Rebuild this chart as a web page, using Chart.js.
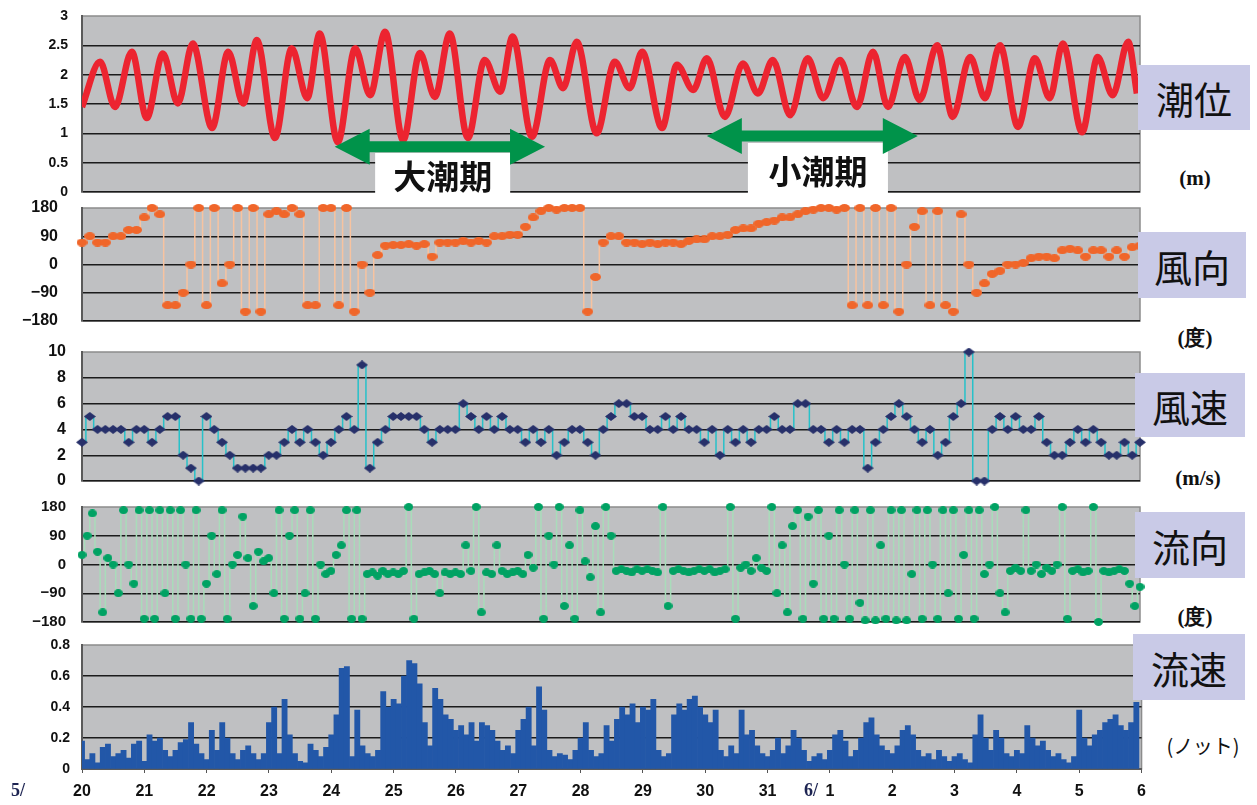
<!DOCTYPE html>
<html>
<head>
<meta charset="utf-8">
<title>潮位・風向・風速・流向・流速</title>
<script src="https://cdn.jsdelivr.net/npm/chart.js@4.4.0/dist/chart.umd.min.js"></script>
<style>
    body { margin: 0; background: #fff; width: 1257px; height: 805px; position: relative; overflow: hidden; }
    canvas { position: absolute; left: 0; }
    .tag { position: absolute; background: #c9cae7; color: #111; font: 38px "Noto Sans CJK JP", sans-serif;
           display: flex; align-items: center; justify-content: center; }
    .unit { position: absolute; transform: translate(-50%, -50%); color: #111; white-space: nowrap;
            font: bold 21px "Liberation Serif", serif; }
    .unit.jp { font: 20px "Noto Sans CJK JP", sans-serif; }
</style>
</head>
<body>
<canvas id="tide"></canvas>
<canvas id="windDir"></canvas>
<canvas id="windSpeed"></canvas>
<canvas id="curDir"></canvas>
<canvas id="curSpeed"></canvas>

<div class="tag" style="left:1138px;top:65px;width:112px;height:65px">潮位</div>
<div class="unit" style="left:1195px;top:178px">(m)</div>
<div class="tag" style="left:1138px;top:232px;width:108px;height:66px">風向</div>
<div class="unit" style="left:1195px;top:338px">(度)</div>
<div class="tag" style="left:1135px;top:373px;width:110px;height:64px">風速</div>
<div class="unit" style="left:1198px;top:478px">(m/s)</div>
<div class="tag" style="left:1135px;top:512px;width:110px;height:66px">流向</div>
<div class="unit" style="left:1195px;top:617px">(度)</div>
<div class="tag" style="left:1133px;top:634px;width:112px;height:66px">流速</div>
<div class="unit jp" style="left:1203px;top:745px">(ノット)</div>

<script>
// x axis: days since 5/20 00:00
const dayLabels = ['20', '21', '22', '23', '24', '25', '26', '27', '28', '29', '30', '31', '1', '2', '3', '4', '5', '6'];
const monthMarks = [{ day: 0, text: '5/' }, { day: 12, text: '6/' }];

// tide level (m): highs and lows
const tideDay = [0, 0.29, 0.53, 0.80, 1.04, 1.30, 1.54, 1.78, 2.09, 2.35, 2.59, 2.81, 3.10, 3.37, 3.62, 3.82,
    4.11, 4.39, 4.63, 4.87, 5.16, 5.43, 5.67, 5.91, 6.20, 6.47, 6.72, 6.92, 7.23, 7.52, 7.73, 7.95,
    8.27, 8.56, 8.80, 9.00, 9.32, 9.56, 9.82, 10.04, 10.33, 10.62, 10.86, 11.10, 11.38, 11.66, 11.91, 12.18,
    12.45, 12.71, 12.95, 13.22, 13.46, 13.74, 13.99, 14.27, 14.51, 14.75, 15.04, 15.31, 15.55, 15.76,
    16.07, 16.32, 16.56, 16.81, 16.95];
const tideLevel = [1.45, 2.22, 1.45, 2.39, 1.26, 2.36, 1.51, 2.53, 1.09, 2.39, 1.51, 2.59, 0.92, 2.45, 1.60, 2.70,
    0.85, 2.45, 1.65, 2.73, 0.88, 2.37, 1.62, 2.70, 0.92, 2.25, 1.71, 2.65, 0.94, 2.25, 1.77, 2.56,
    1.00, 2.22, 1.77, 2.39, 1.09, 2.17, 1.74, 2.28, 1.28, 2.19, 1.68, 2.25, 1.31, 2.28, 1.60, 2.25,
    1.45, 2.39, 1.45, 2.30, 1.57, 2.50, 1.28, 2.30, 1.60, 2.50, 1.11, 2.28, 1.60, 2.53,
    1.02, 2.30, 1.65, 2.56, 1.68];

// wind direction (deg), one reading every 3 h
const windDir = [
    70, 90, 70, 70, 90, 90, 110, 110,
    150, 180, 160, -130, -130, -90, 0, 180,
    -130, 180, -60, 0, 180, -150, 180, -150,
    160, 170, 160, 180, 160, -130, -130, 180,
    180, -130, 180, -150, 0, -90, 30, 60,
    62, 62, 65, 60, 65, 25, 70, 70,
    70, 75, 70, 75, 70, 90, 90, 95,
    95, 120, 150, 170, 180, 175, 180, 180,
    180, -150, -40, 70, 90, 90, 70, 70,
    65, 70, 65, 70, 70, 65, 75, 80,
    80, 90, 90, 95, 110, 115, 115, 130,
    135, 140, 150, 150, 160, 170, 175, 180,
    180, 175, 180, -130, 180, -130, 180, -130,
    180, -150, 0, 120, 170, -130, 170, -130,
    -150, 160, 0, -90, -60, -30, -20, 0,
    0, 5, 20, 25, 25, 20, 45, 50,
    45, 25, 45, 45, 25, 45, 25, 55,
    60];

// wind speed (m/s), every 3 h
const windSpeed = [
    3, 5, 4, 4, 4, 4, 3, 4,
    4, 3, 4, 5, 5, 2, 1, 0,
    5, 4, 3, 2, 1, 1, 1, 1,
    2, 2, 3, 4, 3, 4, 3, 2,
    3, 4, 5, 4, 9, 1, 3, 4,
    5, 5, 5, 5, 4, 3, 4, 4,
    4, 6, 5, 4, 5, 4, 5, 4,
    4, 3, 4, 3, 4, 2, 3, 4,
    4, 3, 2, 4, 5, 6, 6, 5,
    5, 4, 4, 5, 4, 5, 4, 4,
    3, 4, 2, 4, 3, 4, 3, 4,
    4, 5, 4, 4, 6, 6, 4, 4,
    3, 4, 3, 4, 4, 1, 3, 4,
    5, 6, 5, 4, 3, 4, 2, 3,
    5, 6, 10, 0, 0, 4, 5, 4,
    5, 4, 4, 5, 3, 2, 2, 3,
    4, 3, 4, 3, 2, 2, 3, 2,
    3];

// current direction (deg), every 2 h
const currentDir = [
    30, 90, 160, 40, -150, 20, 0, -90, 170, 0, -60, 170,
    -170, 170, -170, 170, -90, 170, -170, 170, 0, -170, 170, -170,
    -60, 90, -30, 170, -170, 0, 30, 150, 20, -130, 40, 10,
    20, -90, 170, -170, 90, 170, -170, -90, 170, -170, 0, -30,
    -20, 30, 60, 170, -170, 170, -170, -30, -25, -35, -20, -30,
    -25, -30, -20, 180, -170, -30, -25, -20, -30, -90, -25, -30,
    -25, -30, 60, -20, 180, -150, -25, -30, 60, -20, -30, -25,
    -20, -30, 30, -10, 180, -170, 90, 0, 180, -130, 60, -170,
    170, 10, -40, 120, -150, 180, 90, -20, -15, -20, -25, -15,
    -20, -15, -20, -25, 180, -130, -20, -15, -20, -25, -20, -15,
    -20, -15, -25, -20, -15, 180, -170, -10, 0, -20, 20, -10,
    -20, 180, -90, 60, -150, 120, 170, -170, 150, -60, 170, -170,
    90, -170, 170, 0, -170, 170, -120, -175, 170, -175, 60, -170,
    170, -175, 170, -175, -30, 170, -170, 170, 0, -170, 170, -90,
    170, -170, 30, 170, -170, 170, -30, 0, 180, -90, -150, -20,
    -10, -20, 170, -20, 0, -30, -10, -20, 0, 180, -170, -20,
    -15, -25, -20, 180, -180, -20, -25, -20, -15, -20, -60, -130,
    -70];

// current speed (knot), every 2 h
const currentSpeed = [
    0.18, 0.06, 0.10, 0.04, 0.14, 0.16, 0.08, 0.10, 0.12, 0.07, 0.16, 0.18,
    0.05, 0.22, 0.18, 0.20, 0.12, 0.08, 0.12, 0.17, 0.19, 0.30, 0.16, 0.10,
    0.06, 0.25, 0.12, 0.30, 0.20, 0.10, 0.06, 0.12, 0.15, 0.10, 0.06, 0.10,
    0.30, 0.40, 0.10, 0.45, 0.22, 0.10, 0.05, 0.04, 0.16, 0.12, 0.08, 0.14,
    0.22, 0.35, 0.65, 0.66, 0.08, 0.38, 0.15, 0.10, 0.08, 0.12, 0.50, 0.40,
    0.45, 0.42, 0.60, 0.70, 0.68, 0.55, 0.30, 0.15, 0.52, 0.45, 0.35, 0.32,
    0.25, 0.28, 0.22, 0.30, 0.18, 0.30, 0.28, 0.25, 0.18, 0.12, 0.15, 0.10,
    0.25, 0.32, 0.40, 0.15, 0.53, 0.38, 0.12, 0.08, 0.10, 0.09, 0.06, 0.12,
    0.20, 0.30, 0.12, 0.08, 0.10, 0.28, 0.18, 0.32, 0.40, 0.35, 0.42, 0.30,
    0.40, 0.38, 0.45, 0.12, 0.08, 0.10, 0.35, 0.42, 0.38, 0.45, 0.47, 0.40,
    0.35, 0.30, 0.38, 0.12, 0.08, 0.15, 0.10, 0.38, 0.22, 0.25, 0.15, 0.10,
    0.08, 0.12, 0.20, 0.10, 0.15, 0.25, 0.20, 0.12, 0.05, 0.08, 0.10, 0.06,
    0.12, 0.22, 0.25, 0.18, 0.08, 0.12, 0.20, 0.30, 0.33, 0.22, 0.15, 0.12,
    0.10, 0.15, 0.25, 0.28, 0.22, 0.12, 0.08, 0.10, 0.06, 0.12, 0.08, 0.05,
    0.08, 0.10, 0.06, 0.04, 0.22, 0.35, 0.20, 0.12, 0.25, 0.20, 0.10, 0.08,
    0.12, 0.10, 0.28, 0.20, 0.15, 0.18, 0.12, 0.08, 0.10, 0.06, 0.04, 0.08,
    0.38, 0.20, 0.15, 0.22, 0.25, 0.30, 0.32, 0.35, 0.28, 0.25, 0.30, 0.43];

// spring / neap tide markers on the tide panel (in day / metre units)
const periods = [
    { label: '大潮期', from: 4.06, to: 7.44, level: 0.77, boxFrom: 4.71, boxTo: 6.88, boxTop: 0.665 },
    { label: '小潮期', from: 10.04, to: 13.43, level: 0.955, boxFrom: 10.70, boxTo: 12.95, boxTop: 0.835 }
];

Chart.defaults.font.family = '"Liberation Sans", Arial, sans-serif';
Chart.defaults.animation = false;
Chart.defaults.plugins.legend.display = false;
Chart.defaults.plugins.tooltip.enabled = false;

const everyN = (arr, perDay) => arr.map((v, i) => ({ x: i / perDay, y: v }));
const signed = v => (v < 0 ? '\u2212' + Math.abs(v) : String(v));

// small marker images, wider than tall like the spreadsheet markers
function marker(w, h, color, diamond) {
    const c = document.createElement('canvas');
    c.width = w;
    c.height = h;
    const g = c.getContext('2d');
    g.fillStyle = color;
    g.beginPath();
    if (diamond) {
        g.moveTo(0, h / 2); g.lineTo(w / 2, 0); g.lineTo(w, h / 2); g.lineTo(w / 2, h);
    } else {
        g.ellipse(w / 2, h / 2, w / 2, h / 2, 0, 0, Math.PI * 2);
    }
    g.closePath();
    g.fill();
    return c;
}

const panelBg = {
    id: 'panelBg',
    beforeDraw(chart) {
        const a = chart.chartArea, c = chart.ctx;
        c.save();
        c.fillStyle = '#bfc0c2';
        c.fillRect(a.left, a.top, a.right - a.left, a.bottom - a.top);
        c.strokeStyle = '#8c8c8c';
        c.lineWidth = 1.5;
        c.strokeRect(a.left, a.top, a.right - a.left, a.bottom - a.top);
        c.restore();
    }
};

const tideMarks = {
    id: 'tideMarks',
    afterDatasetsDraw(chart) {
        const { ctx, scales: { x, y } } = chart;
        ctx.save();
        periods.forEach(p => {
            const bx1 = x.getPixelForValue(p.boxFrom), bx2 = x.getPixelForValue(p.boxTo);
            const by1 = y.getPixelForValue(p.boxTop), by2 = y.getPixelForValue(0) + 1;
            ctx.fillStyle = '#fff';
            ctx.fillRect(bx1, by1, bx2 - bx1, by2 - by1);
            ctx.fillStyle = '#111';
            ctx.font = 'bold 33px "Noto Sans CJK JP", sans-serif';
            ctx.textAlign = 'center';
            ctx.textBaseline = 'middle';
            ctx.fillText(p.label, (bx1 + bx2) / 2, (by1 + by2) / 2 + 3);

            const x1 = x.getPixelForValue(p.from), x2 = x.getPixelForValue(p.to);
            const yc = y.getPixelForValue(p.level);
            const head = 35, hh = 18, sh = 5.5;
            ctx.fillStyle = '#00934a';
            ctx.beginPath();
            ctx.moveTo(x1, yc);
            ctx.lineTo(x1 + head, yc - hh);
            ctx.lineTo(x1 + head, yc - sh);
            ctx.lineTo(x2 - head, yc - sh);
            ctx.lineTo(x2 - head, yc - hh);
            ctx.lineTo(x2, yc);
            ctx.lineTo(x2 - head, yc + hh);
            ctx.lineTo(x2 - head, yc + sh);
            ctx.lineTo(x1 + head, yc + sh);
            ctx.lineTo(x1 + head, yc + hh);
            ctx.closePath();
            ctx.fill();
        });
        ctx.restore();
    }
};

const monthText = {
    id: 'monthText',
    afterDraw(chart) {
        const { ctx, scales: { x }, chartArea } = chart;
        ctx.save();
        ctx.fillStyle = '#1d2452';
        ctx.font = 'bold 18px "Liberation Serif", serif';
        ctx.textAlign = 'center';
        ctx.textBaseline = 'middle';
        monthMarks.forEach(m => {
            const off = m.day === 0 ? -64 : -19;
            ctx.fillText(m.text, x.getPixelForValue(m.day) + off, chartArea.bottom + 22);
        });
        ctx.restore();
    }
};

function yAxis(min, max, step, size, pad, fmt) {
    return {
        min: min, max: max,
        afterFit(s) {
            s.width = 82;
            // labels may hang over the plot edges; keep the plot where the layout puts it
            s.paddingTop = 0;
            s.paddingBottom = 0;
        },
        ticks: { stepSize: step, padding: pad, color: '#111', font: { size: size, weight: 'bold' }, callback: fmt },
        grid: {
            drawTicks: false,
            lineWidth: 1.4,
            color: c => (c.tick && c.tick.value >= max - 1e-9 ? 'rgba(0,0,0,0)' : '#1b1b1b')
        },
        border: { color: '#5a5a5a', width: 2 }
    };
}

function hiddenX() {
    return { type: 'linear', min: 0, max: 17, display: false };
}

function place(id, top, width, height) {
    const el = document.getElementById(id);
    el.style.top = top + 'px';
    el.style.width = width + 'px';
    el.style.height = height + 'px';
    el.width = width;
    el.height = height;
    return el;
}

function panel(id, top, height, datasets, y, plugins) {
    const el = place(id, top, 1150, height);
    return new Chart(el, {
        type: 'line',
        data: { datasets: datasets },
        options: {
            responsive: false,
            layout: { padding: { left: 0, right: 10, top: 12, bottom: 12 } },
            scales: { x: hiddenX(), y: y }
        },
        plugins: [panelBg].concat(plugins || [])
    });
}

// 潮位  (plot 16..192)
panel('tide', 4, 200, [{
    data: tideDay.map((d, i) => ({ x: d, y: tideLevel[i] })),
    borderColor: '#ec2430',
    borderWidth: 6.5,
    pointRadius: 0,
    cubicInterpolationMode: 'monotone'
}], yAxis(0, 3, 0.5, 14, 14), [tideMarks]);

// 風向  (plot 208..321)
panel('windDir', 196, 137, [{
    data: everyN(windDir, 8),
    stepped: 'middle',
    borderColor: '#f7c3a0',
    borderWidth: 1.5,
    pointRadius: 4,
    pointStyle: marker(11, 8, '#f0662a'),
    clip: 6
}], yAxis(-180, 180, 90, 16, 24, signed));

// 風速  (plot 352..481)
panel('windSpeed', 340, 153, [{
    data: everyN(windSpeed, 8),
    stepped: 'middle',
    borderColor: '#27c1c9',
    borderWidth: 1.5,
    pointRadius: 4,
    pointStyle: marker(12, 9, '#27306a', true),
    clip: 6
}], yAxis(0, 10, 2, 16, 16));

// 流向  (plot 507..622)
panel('curDir', 495, 139, [{
    data: everyN(currentDir, 12),
    stepped: 'middle',
    borderColor: '#a9dcba',
    borderWidth: 1.5,
    pointRadius: 4,
    pointStyle: marker(9, 8, '#00a263'),
    clip: 6
}], yAxis(-180, 180, 90, 15, 16, signed));

// 流速  (plot 645..769, day labels below)
const speedX = {
    type: 'linear', min: 0, max: 17,
    offset: false,
    afterFit(s) { s.height = 36; },
    afterBuildTicks(s) { s.ticks = dayLabels.map((_, i) => ({ value: i })); },
    ticks: {
        autoSkip: false, maxRotation: 0, padding: 9, color: '#111',
        font: { size: 16, weight: 'bold' },
        callback: (v, i) => dayLabels[i]
    },
    grid: { offset: false, drawOnChartArea: false, drawTicks: true, tickLength: 4, color: '#555' },
    border: { color: '#5a5a5a', width: 2 }
};
const speedEl = place('curSpeed', 633, 1155, 172);
new Chart(speedEl, {
    type: 'bar',
    data: {
        datasets: [{
            data: everyN(currentSpeed, 12),
            backgroundColor: '#2257a8',
            borderWidth: 0,
            barPercentage: 1,
            categoryPercentage: 1
        }]
    },
    options: {
        responsive: false,
        layout: { padding: { left: 0, right: 10, top: 12, bottom: 0 } },
        scales: { x: speedX, y: yAxis(0, 0.8, 0.2, 14, 12) }
    },
    plugins: [panelBg, monthText]
});
</script>
</body>
</html>
